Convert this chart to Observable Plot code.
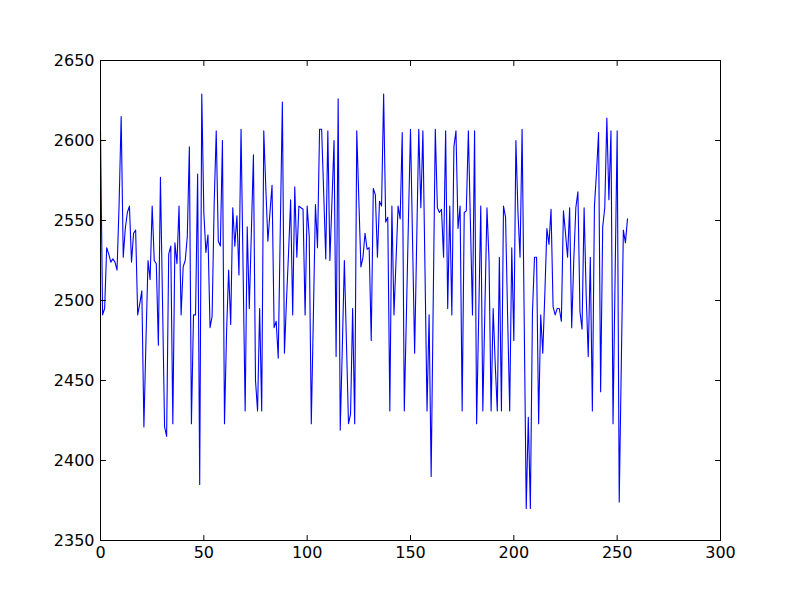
<!DOCTYPE html>
<html>
<head>
<meta charset="utf-8">
<script src="https://cdn.jsdelivr.net/npm/d3@7"></script>
<script src="https://cdn.jsdelivr.net/npm/@observablehq/plot@0.6"></script>
<style>
  html, body { margin: 0; padding: 0; background: #ffffff; }
  #chart { width: 800px; height: 600px; }
</style>
</head>
<body>
<div id="chart"></div>
<script>
const values = [
  2606, 2491, 2495, 2533, 2529, 2524, 2526, 2524, 2519, 2560,
  2615, 2527, 2545, 2555, 2559, 2524, 2542, 2544, 2491, 2498,
  2506, 2421, 2475, 2525, 2513, 2559, 2525, 2523, 2472, 2577,
  2500, 2421, 2415, 2529, 2534, 2423, 2536, 2523, 2559, 2491,
  2521, 2525, 2540, 2596, 2423, 2491, 2491, 2579, 2385, 2629,
  2555, 2530, 2541, 2483, 2490, 2560, 2606, 2537, 2534, 2600,
  2423, 2480, 2519, 2485, 2558, 2534, 2553, 2516, 2607, 2519,
  2431, 2546, 2495, 2543, 2591, 2450, 2431, 2495, 2431, 2606,
  2570, 2537, 2555, 2572, 2483, 2487, 2464, 2545, 2624, 2467,
  2500, 2530, 2563, 2491, 2571, 2527, 2559, 2558, 2557, 2491,
  2559, 2540, 2423, 2490, 2560, 2533, 2607, 2607, 2567, 2526,
  2606, 2525, 2562, 2600, 2465, 2626, 2419, 2470, 2525, 2474,
  2423, 2429, 2495, 2423, 2606, 2563, 2521, 2527, 2542, 2532,
  2533, 2475, 2570, 2566, 2527, 2562, 2559, 2629, 2549, 2552,
  2431, 2559, 2491, 2525, 2559, 2551, 2605, 2431, 2490, 2550,
  2607, 2537, 2467, 2537, 2607, 2558, 2606, 2520, 2431, 2491,
  2390, 2500, 2607, 2558, 2555, 2557, 2527, 2606, 2495, 2559,
  2491, 2596, 2606, 2545, 2559, 2431, 2555, 2556, 2606, 2548,
  2491, 2606, 2423, 2490, 2559, 2431, 2495, 2558, 2525, 2431,
  2495, 2460, 2431, 2527, 2431, 2559, 2552, 2490, 2431, 2533,
  2475, 2600, 2555, 2527, 2607, 2490, 2370, 2427, 2370, 2492,
  2527, 2527, 2423, 2491, 2467, 2504, 2545, 2535, 2557, 2496,
  2491, 2495, 2495, 2487, 2556, 2542, 2527, 2558, 2483, 2525,
  2558, 2568, 2493, 2482, 2558, 2504, 2465, 2527, 2431, 2559,
  2580, 2605, 2443, 2546, 2558, 2614, 2563, 2606, 2423, 2515,
  2606, 2374, 2460, 2544, 2536, 2551
];
const xTicks = [0, 50, 100, 150, 200, 250, 300];
const yTicks = [2350, 2400, 2450, 2500, 2550, 2600, 2650];
const xDomain = [0, 300];
const yDomain = [2350, 2650];

const data = values.map((v, i) => ({i, v}));
const tickShape = {draw(ctx, l) { ctx.moveTo(0, 0); ctx.lineTo(0, -l); }};
const tickLen = 5;

const chart = Plot.plot({
  width: 800,
  height: 600,
  marginLeft: 100,
  marginRight: 80,
  marginTop: 60,
  marginBottom: 60,
  style: {background: "#ffffff", fontFamily: "DejaVu Sans", fontSize: "16px", color: "#000"},
  x: {domain: xDomain},
  y: {domain: yDomain},
  marks: [
    Plot.line(data, {x: "i", y: "v", stroke: "#0000ff", strokeWidth: 1.1}),
    Plot.vector(xTicks, {x: d => d, y: yDomain[0], rotate: 0, length: tickLen, anchor: "start", shape: tickShape, stroke: "#000", strokeWidth: 1}),
    Plot.vector(xTicks, {x: d => d, y: yDomain[1], rotate: 180, length: tickLen, anchor: "start", shape: tickShape, stroke: "#000", strokeWidth: 1}),
    Plot.vector(yTicks, {x: xDomain[0], y: d => d, rotate: 90, length: tickLen, anchor: "start", shape: tickShape, stroke: "#000", strokeWidth: 1}),
    Plot.vector(yTicks, {x: xDomain[1], y: d => d, rotate: -90, length: tickLen, anchor: "start", shape: tickShape, stroke: "#000", strokeWidth: 1}),
    Plot.axisX({ticks: xTicks, tickSize: 0, tickPadding: 6, label: null, tickFormat: d => String(d), fontSize: 16}),
    Plot.axisY({ticks: yTicks, tickSize: 0, tickPadding: 6, label: null, tickFormat: d => String(d), fontSize: 16}),
    Plot.frame({stroke: "#000", strokeWidth: 1})
  ]
});
document.getElementById("chart").appendChild(chart);
</script>
</body>
</html>
